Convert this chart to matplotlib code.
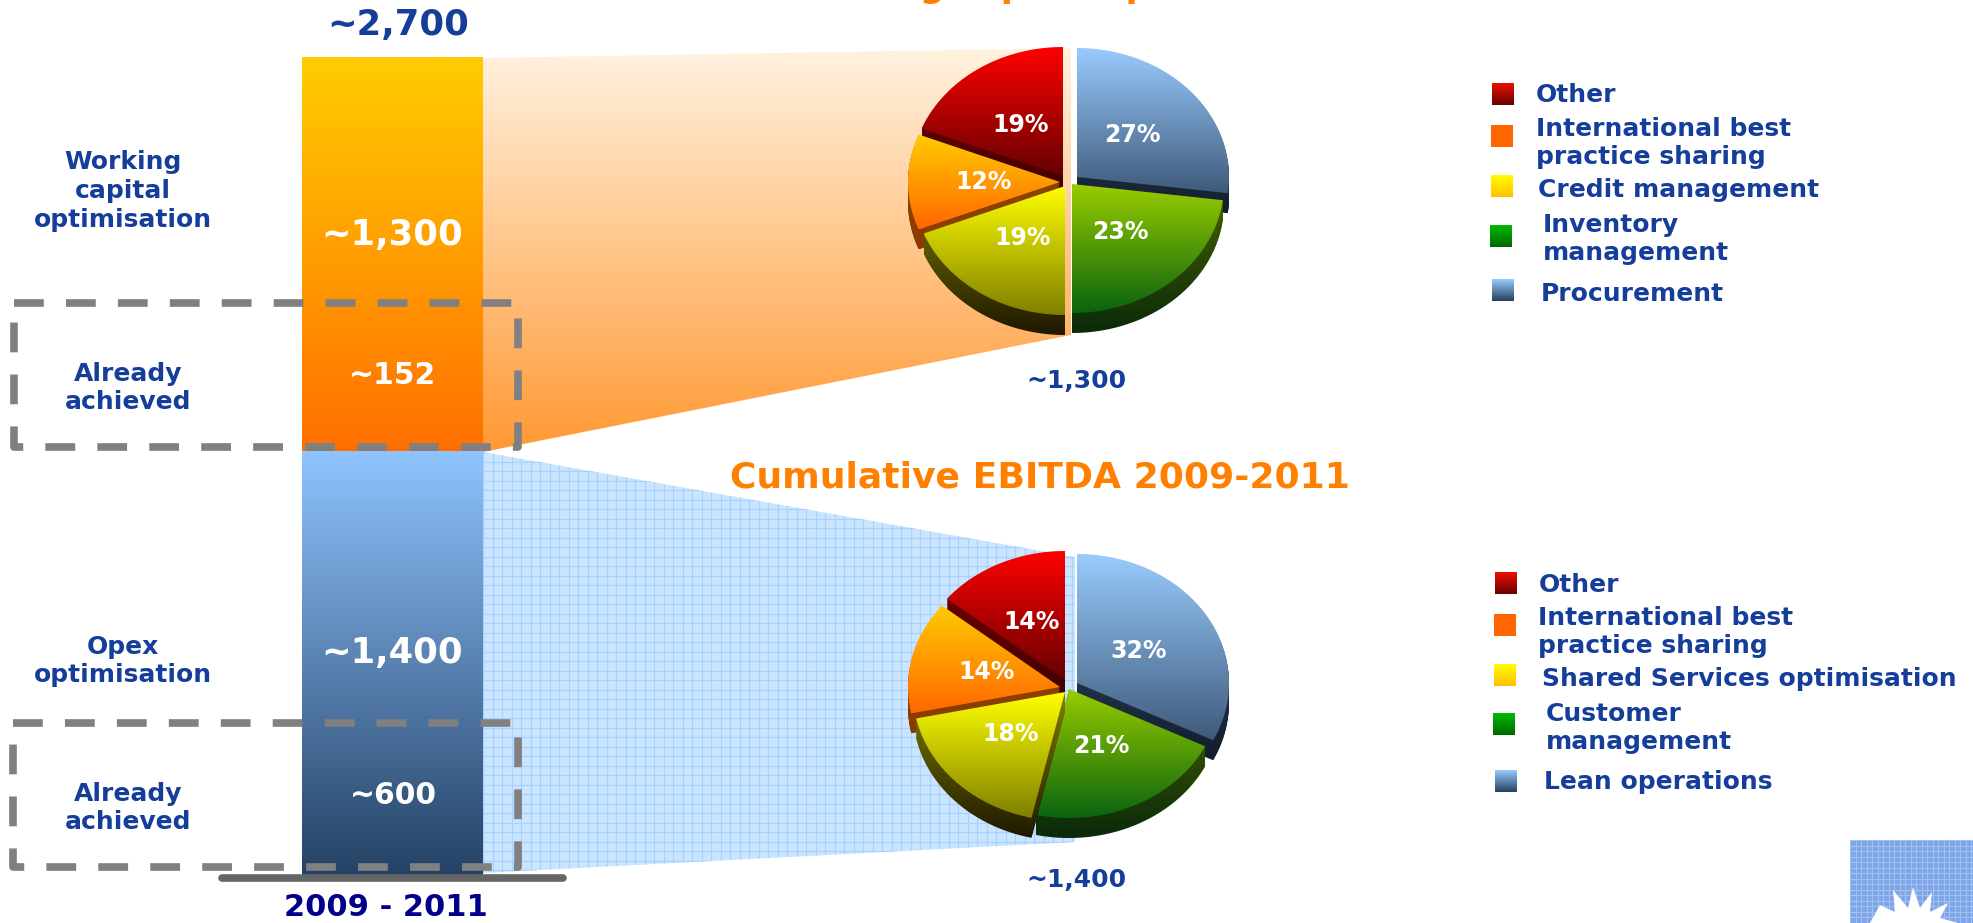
import numpy as np
import matplotlib
matplotlib.use('Agg')
import matplotlib.pyplot as plt
from matplotlib.colors import LinearSegmentedColormap
from matplotlib.patches import Polygon

# Data
bar_year = '2009 - 2011'
bar_total = '~2,700'
bar_values = [1400, 1300]
bar_labels = ['~1,400', '~1,300']
achieved_labels = ['~600', '~152']

wc_shares = [27, 23, 19, 12, 19]
opex_shares = [32, 21, 18, 14, 14]
wc_total = '~1,300'
opex_total = '~1,400'

wc_legend = ['Other', 'International best\npractice sharing', 'Credit management',
             'Inventory\nmanagement', 'Procurement']
opex_legend = ['Other', 'International best\npractice sharing', 'Shared Services optimisation',
               'Customer\nmanagement', 'Lean operations']

title_top = 'Working capital optimisation'
title_bottom = 'Cumulative EBITDA 2009-2011'

# Colours of slices in order blue, green, yellow, orange, red
slice_top = ['#99CCFF', '#99CC00', '#FFFF00', '#FFCC00', '#FF0000']
slice_bot = ['#3F5A7A', '#0A640F', '#7F7F00', '#FF6600', '#660000']
side_top = ['#3C5573', '#4A6400', '#808000', '#8A4E00', '#800000']
side_bot = ['#111D2C', '#0A2A0A', '#1F1800', '#8A3A00', '#400000']
legend_top = ['#99CCFF', '#00BB00', '#FFFF00', '#FF6600', '#EE1100']
legend_bot = ['#24405F', '#006600', '#FFBF00', '#FF6600', '#660000']

navy = '#153E9B'
W, H = 1973, 923

fig = plt.figure(figsize=(W / 100, H / 100), dpi=100, facecolor='white')
plt.rcParams['font.family'] = 'DejaVu Sans'


def pixel_axes(zorder):
    a = fig.add_axes([0, 0, 1, 1], zorder=zorder)
    a.set_xlim(0, W)
    a.set_ylim(H, 0)
    a.axis('off')
    a.patch.set_alpha(0)
    return a


def gradient(a, xs, ys, c1, c2, zorder, yrange=None):
    # vertical gradient clipped to a polygon
    cmap = LinearSegmentedColormap.from_list('g', [c1, c2])
    if yrange is None:
        yrange = (min(ys), max(ys))
    im = a.imshow(np.linspace(0, 1, 256).reshape(-1, 1), cmap=cmap, aspect='auto',
                  extent=(min(xs), max(xs), yrange[1], yrange[0]), zorder=zorder,
                  interpolation='bilinear')
    clip = Polygon(np.column_stack([xs, ys]), transform=a.transData)
    im.set_clip_path(clip)


def draw_pie(a, shares, cx, cy, offsets, text_pos):
    rx, ry, depth = 152, 129, 20
    edges = np.cumsum([0] + shares) / sum(shares) * 2 * np.pi
    for i in [0, 4, 3, 1, 2]:
        t = np.linspace(edges[i], edges[i + 1], 80)
        ox, oy = offsets[i]
        xs = np.r_[cx + ox, cx + ox + rx * np.sin(t)]
        ys = np.r_[cy + oy, cy + oy - ry * np.cos(t)]
        z = 5 + 2 * [0, 4, 3, 1, 2].index(i)
        for k in range(depth, 0, -1):
            gradient(a, xs, ys + k, side_top[i], side_bot[i], z,
                     yrange=(min(ys), max(ys) + depth))
        gradient(a, xs, ys, slice_top[i], slice_bot[i], z + 1)
    for v, (tx, ty) in zip(shares, text_pos):
        a.text(tx, ty, f'{v}%', color='white', fontsize=17, fontweight='bold',
               ha='center', va='center', zorder=30)


def draw_legend(a, labels, text_x, text_y, box_x, box_y):
    order = [4, 3, 2, 1, 0]
    for n, i in enumerate(order):
        x, y = box_x[n], box_y[n]
        xs = [x, x + 22, x + 22, x]
        ys = [y, y, y + 22, y + 22]
        gradient(a, xs, ys, legend_top[i], legend_bot[i], 5)
        a.text(text_x[n], text_y[n], labels[n], color=navy, fontsize=18, fontweight='bold',
               ha='left', va='center', linespacing=1.2, zorder=5)


def dashed_box(a, x0, y0, x1, y1):
    a.plot([x0, x1, x1, x0, x0], [y0, y0, y1, y1, y0], color='#808080', lw=5.5,
           ls=(0, (3.9, 2.9)), dash_capstyle='butt', zorder=10)


# Funnels behind the bar
back = pixel_axes(0)
fx = [483, 1071, 1071, 483]
fy = [58, 48, 335, 452]
gradient(back, fx, fy, '#FFF2E0', '#FF9933', 1)

fx2 = [483, 1075, 1075, 483]
fy2 = [452, 557, 842, 873]
back.fill(fx2, fy2, color='#CCE5FF', lw=0, zorder=1)
clip2 = Polygon(np.column_stack([fx2, fy2]), transform=back.transData)
for x in np.arange(483, 1076, 9.5):
    ln = back.axvline(x, color='#A6D2FF', lw=0.9, zorder=2)
    ln.set_clip_path(clip2)
for y in np.arange(452, 875, 9.5):
    ln = back.axhline(y, color='#A6D2FF', lw=0.9, zorder=2)
    ln.set_clip_path(clip2)

# Stacked bar, on its own value axis
bar_ax = fig.add_axes([302 / W, 1 - 875 / H, 181 / W, 818 / H], zorder=1)
bar_ax.set_xlim(-0.5, 0.5)
bar_ax.set_ylim(0, sum(bar_values))
bar_ax.axis('off')
bar_ax.patch.set_alpha(0)
bars_bottom = 0
for v, c1, c2 in zip(bar_values, ['#8FC4FF', '#FFCC00'], ['#244265', '#FF6F00']):
    r = bar_ax.bar(0, v, width=1, bottom=bars_bottom, color='none')[0]
    im = bar_ax.imshow(np.linspace(0, 1, 256).reshape(-1, 1),
                       cmap=LinearSegmentedColormap.from_list('b', [c2, c1]), aspect='auto',
                       extent=(-0.5, 0.5, bars_bottom, bars_bottom + v), origin='lower',
                       zorder=1)
    im.set_clip_path(r)
    bars_bottom += v
bar_ax.set_xlim(-0.5, 0.5)
bar_ax.set_ylim(0, sum(bar_values))

# Everything on top
ax = pixel_axes(2)
dashed_box(ax, 14, 303, 518, 447)
dashed_box(ax, 13, 723, 518, 867)
ax.plot([222, 563], [878, 878], color='#666666', lw=5.5, solid_capstyle='round', zorder=9)

ax.text(398, 25, bar_total, color=navy, fontsize=25.5, fontweight='bold', ha='center', va='center')
ax.text(392, 235, bar_labels[1], color='white', fontsize=25.5, fontweight='bold', ha='center', va='center', zorder=12)
ax.text(392, 653, bar_labels[0], color='white', fontsize=25.5, fontweight='bold', ha='center', va='center', zorder=12)
ax.text(393, 376, achieved_labels[1], color='white', fontsize=21.5, fontweight='bold', ha='center', va='center', zorder=12)
ax.text(393, 796, achieved_labels[0], color='white', fontsize=21.5, fontweight='bold', ha='center', va='center', zorder=12)
ax.text(386, 908, bar_year, color='#00008B', fontsize=22, fontweight='bold', ha='center', va='center')

ax.text(123, 191, 'Working\ncapital\noptimisation', color=navy, fontsize=18, fontweight='bold',
        ha='center', va='center', linespacing=1.25)
ax.text(123, 661, 'Opex\noptimisation', color=navy, fontsize=18, fontweight='bold',
        ha='center', va='center', linespacing=1.25)
ax.text(128, 388, 'Already\nachieved', color=navy, fontsize=18, fontweight='bold',
        ha='center', va='center', linespacing=1.25)
ax.text(128, 808, 'Already\nachieved', color=navy, fontsize=18, fontweight='bold',
        ha='center', va='center', linespacing=1.25)

ax.text(1040, 477, title_bottom, color='#FF7F00', fontsize=26, fontweight='bold', ha='center', va='center')
ax.text(1065, -3, title_top, color='#FF7F00', fontsize=25, fontweight='bold', ha='center', va='baseline')

draw_pie(ax, wc_shares, 1067, 183, [(10, -6), (5, 1), (-2, 3), (-7, -1), (-4, -7)],
         [(1132, 135), (1120, 232), (1023, 238), (984, 182), (1021, 125)])
draw_pie(ax, opex_shares, 1067, 685, [(10, -2), (2, 4), (-2, 7), (-7, 2), (-2, -5)],
         [(1139, 651), (1101, 746), (1011, 734), (987, 672), (1032, 622)])

ax.text(1076, 381, wc_total, color=navy, fontsize=18, fontweight='bold', ha='center', va='center')
ax.text(1076, 880, opex_total, color=navy, fontsize=18, fontweight='bold', ha='center', va='center')

draw_legend(ax, wc_legend, [1536, 1536, 1538, 1543, 1541], [95, 143, 190, 239, 294],
            [1492, 1491, 1491, 1490, 1492], [83, 125, 175, 225, 279])
draw_legend(ax, opex_legend, [1539, 1538, 1542, 1546, 1544], [585, 632, 679, 728, 782],
            [1495, 1494, 1494, 1493, 1495], [572, 614, 664, 713, 770])

# Logo corner
ax.fill([1850, W, W, 1850], [840, 840, H, H], color='#7DA6E8', lw=0, zorder=3)
for x in np.arange(1850, W, 5.5):
    ax.plot([x, x], [840, H], color='#A3C0F0', lw=0.8, zorder=4)
for y in np.arange(840, H, 5.5):
    ax.plot([1850, W], [y, y], color='#A3C0F0', lw=0.8, zorder=4)
ax.fill([1870, 1880, 1895, 1893, 1908, 1913, 1920, 1932, 1930, 1948, 1940, 1958, 1870],
        [923, 905, 912, 890, 908, 887, 908, 892, 912, 903, 918, 923, 923],
        color='white', lw=0, zorder=5)

ax.set_xlim(0, W)
ax.set_ylim(H, 0)
back.set_xlim(0, W)
back.set_ylim(H, 0)
fig.savefig('out.png', dpi=100)
